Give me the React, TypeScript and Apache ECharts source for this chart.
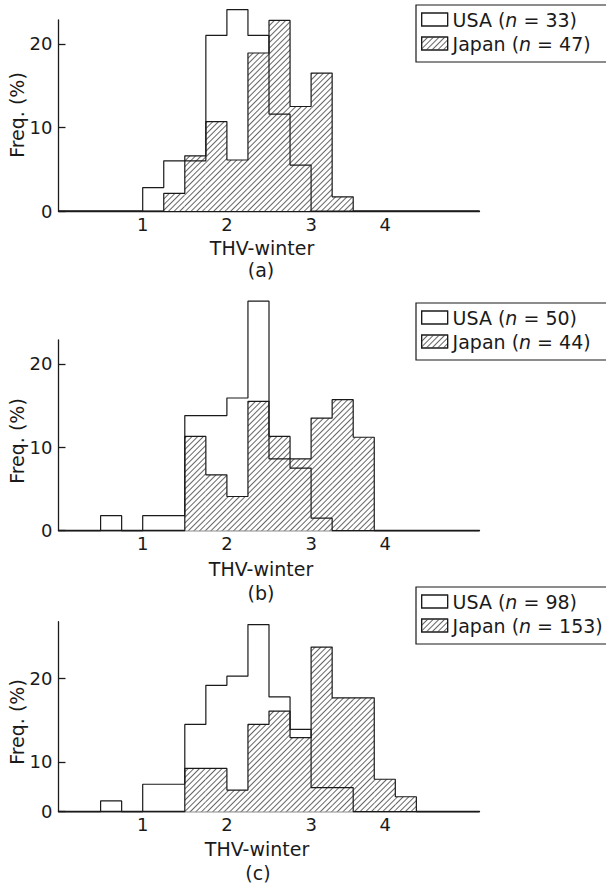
import React, { useEffect, useRef } from 'react';
import * as echarts from 'echarts';

// ---------- data ----------
// histogram bins of width 0.25 (bin start values) and the right edge of the last bin
const BIN_STARTS = ['0.00', '0.25', '0.50', '0.75', '1.00', '1.25', '1.50', '1.75', '2.00', '2.25',
  '2.50', '2.75', '3.00', '3.25', '3.50', '3.75', '4.00', '4.25', '4.50', '4.75'];
const BIN_END = 5;
const X_TICKS = [1, 2, 3, 4];
const Y_TICK_LABELS = ['0', '10', '20'];

// panel (a)
const USA_A_NAME = 'USA (n = 33)';
const JPN_A_NAME = 'Japan (n = 47)';
const USA_A = [0, 0, 0, 0, 2.8, 6.0, 6.0, 21.0, 24.1, 21.0, 11.6, 5.5, 0, 0, 0, 0, 0, 0, 0, 0];
const JPN_A = [0, 0, 0, 0, 0, 2.1, 6.6, 10.7, 6.1, 18.9, 22.8, 12.5, 16.5, 1.7, 0, 0, 0, 0, 0, 0];
const Y_TICKS_A = [0, 10, 20];

// panel (b)
const USA_B_NAME = 'USA (n = 50)';
const JPN_B_NAME = 'Japan (n = 44)';
const USA_B = [0, 0, 1.8, 0, 1.8, 1.8, 13.8, 13.8, 15.9, 27.5, 8.6, 7.5, 1.5, 0, 0, 0, 0, 0, 0, 0];
const JPN_B = [0, 0, 0, 0, 0, 0, 11.3, 6.7, 4.1, 15.5, 11.3, 8.6, 13.5, 15.7, 11.2, 0, 0, 0, 0, 0];
const Y_TICKS_B = [0, 10, 20];

// panel (c)
const USA_C_NAME = 'USA (n = 98)';
const JPN_C_NAME = 'Japan (n = 153)';
const USA_C = [0, 0, 1.3, 0, 3.3, 3.3, 10.5, 15.2, 16.3, 22.5, 13.8, 9.9, 2.9, 2.9, 0, 0, 0, 0, 0, 0];
const JPN_C = [0, 0, 0, 0, 0, 0, 5.2, 5.2, 2.6, 10.5, 12.1, 8.9, 19.8, 13.7, 13.7, 3.9, 1.8, 0, 0, 0];
// tick positions as printed in the reference (the "10" and "20" marks sit lower there)
const Y_TICKS_C = [0, 6.0, 16.0];

const PANEL_LABELS = ['(a)', '(b)', '(c)'];
const X_TITLE = 'THV-winter';
const Y_TITLE = 'Freq. (%)';

// ---------- layout ----------
const FONT = '"DejaVu Sans", Verdana, sans-serif';
const INK = '#1a1a1a';
const LAYOUT = [
  { top: 20, height: 191, legendTop: 5, titleX: 262, titleY: 248, labelX: 261, labelY: 270, freqY: 115 },
  { top: 340, height: 190.7, legendTop: 303, titleX: 261, titleY: 569, labelX: 261, labelY: 593, freqY: 441 },
  { top: 621.7, height: 190, legendTop: 587, titleX: 257, titleY: 849, labelX: 258, labelY: 873, freqY: 722 },
];
const Y_MAX = 22.85;

const PANELS = [
  { usaName: USA_A_NAME, jpnName: JPN_A_NAME, usa: USA_A, jpn: JPN_A, yTicks: Y_TICKS_A },
  { usaName: USA_B_NAME, jpnName: JPN_B_NAME, usa: USA_B, jpn: JPN_B, yTicks: Y_TICKS_B },
  { usaName: USA_C_NAME, jpnName: JPN_C_NAME, usa: USA_C, jpn: JPN_C, yTicks: Y_TICKS_C },
];

const HATCH = {
  symbol: 'rect',
  symbolSize: 1,
  dashArrayX: [1, 0],
  dashArrayY: [1, 3],
  rotation: -Math.PI / 4,
  color: '#666666',
  backgroundColor: '#ffffff',
};
const NO_HATCH = {
  symbol: 'rect',
  symbolSize: 1,
  dashArrayX: [1, 0],
  dashArrayY: [1, 3],
  color: 'rgba(255,255,255,0)',
  backgroundColor: 'rgba(255,255,255,0)',
};

function toBars(values: number[]) {
  return values.map((v) => (v > 0 ? v : '-'));
}

// histogram outline: (bin start, height) pairs plus closing edge, drawn as a step line
function toOutline(values: number[]) {
  const pts: [number, number][] = values.map((v, i) => [parseFloat(BIN_STARTS[i]), v]);
  pts.push([BIN_END, 0]);
  return pts;
}

function buildOption() {
  const grid: any[] = [];
  const xAxis: any[] = [];
  const yAxis: any[] = [];
  const series: any[] = [];
  const legend: any[] = [];
  const graphic: any[] = [];

  PANELS.forEach((p, k) => {
    const L = LAYOUT[k];
    grid.push({ left: 58.5, width: 421, top: L.top, height: L.height, outerBoundsMode: 'none', containLabel: false });
    // visible value axis 0..5
    xAxis.push({
      type: 'value', gridIndex: k, min: 0, max: BIN_END,
      axisLine: { show: true, lineStyle: { color: INK, width: 1.3 } },
      axisTick: { show: false },
      splitLine: { show: false },
      axisLabel: {
        customValues: X_TICKS,
        margin: 4,
        color: INK, fontSize: 18, fontFamily: FONT,
        formatter: (v: number) => (v === 4 ? '{s|4}' : String(v)),
        rich: { s: { padding: [0, 20, 0, 0], color: INK, fontSize: 18, fontFamily: FONT } },
      },
    });
    // hidden category axis carrying the bins
    xAxis.push({
      type: 'category', gridIndex: k, data: BIN_STARTS, show: false, boundaryGap: true,
    });
    const ticks = p.yTicks;
    yAxis.push({
      type: 'value', gridIndex: k, min: 0, max: Y_MAX,
      axisLine: { show: true, lineStyle: { color: INK, width: 1.3 } },
      axisTick: { show: true, inside: true, length: 7, customValues: ticks, lineStyle: { color: INK, width: 1.3 } },
      splitLine: { show: false },
      axisLabel: {
        customValues: ticks,
        margin: 6,
        color: INK, fontSize: 18, fontFamily: FONT,
        formatter: (v: number) => {
          const i = ticks.indexOf(v);
          return i >= 0 ? Y_TICK_LABELS[i] : '';
        },
      },
    });
    const valAxisIndex = 2 * k;
    const catAxisIndex = 2 * k + 1;
    // Japan hatched fill
    series.push({
      type: 'bar', name: p.jpnName, xAxisIndex: catAxisIndex, yAxisIndex: k,
      data: toBars(p.jpn), barWidth: '100%', barGap: '-100%', clip: false, z: 2,
      itemStyle: { color: '#ffffff', borderWidth: 0, decal: HATCH },
      emphasis: { disabled: true },
    });
    // USA (open bars)
    series.push({
      type: 'bar', name: p.usaName, xAxisIndex: catAxisIndex, yAxisIndex: k,
      data: toBars(p.usa), barWidth: '100%', barGap: '-100%', clip: false, z: 1,
      itemStyle: { color: 'rgba(255,255,255,0)', borderWidth: 0, decal: NO_HATCH },
      emphasis: { disabled: true },
    });
    // outlines
    [p.jpn, p.usa].forEach((vals, j) => {
      series.push({
        type: 'line', name: (j === 0 ? 'Japan outline ' : 'USA outline ') + PANEL_LABELS[k],
        xAxisIndex: valAxisIndex, yAxisIndex: k,
        data: toOutline(vals), step: 'end', showSymbol: false, symbol: 'none', clip: false, z: 3,
        lineStyle: { color: INK, width: 1.2 },
        emphasis: { disabled: true }, silent: true,
      });
    });
    const iconStyle = { borderColor: INK, borderWidth: 1.2 };
    legend.push({
      orient: 'vertical', left: 416, top: L.legendTop,
      data: [
        { name: p.usaName, itemStyle: { ...iconStyle, color: '#ffffff' } },
        { name: p.jpnName, itemStyle: { ...iconStyle } },
      ],
      icon: 'rect', itemWidth: 26, itemHeight: 13, itemGap: 5,
      padding: [5, 20, 9, 5],
      borderColor: INK, borderWidth: 1.2,
      selectedMode: false,
      formatter: (name: string) => name.replace('(n', '({i|n}'),
      textStyle: {
        color: INK, fontSize: 19, fontFamily: FONT, lineHeight: 18,
        rich: { i: { fontStyle: 'italic', color: INK, fontSize: 19, fontFamily: FONT, lineHeight: 18 } },
      },
    });
    graphic.push({
      type: 'text', x: L.titleX, y: L.titleY,
      style: { text: X_TITLE, fill: INK, fontSize: 19, fontFamily: FONT, align: 'center', verticalAlign: 'middle' },
    });
    graphic.push({
      type: 'text', x: L.labelX, y: L.labelY,
      style: { text: PANEL_LABELS[k], fill: INK, fontSize: 19, fontFamily: FONT, align: 'center', verticalAlign: 'middle' },
    });
    graphic.push({
      type: 'text', x: 16.5, y: L.freqY, rotation: Math.PI / 2,
      style: { text: Y_TITLE, fill: INK, fontSize: 19, fontFamily: FONT, align: 'center', verticalAlign: 'middle' },
    });
  });

  return {
    animation: false,
    backgroundColor: '#ffffff',
    aria: { enabled: true, decal: { show: true } },
    grid, xAxis, yAxis, series, legend, graphic,
  };
}

export default function App() {
  const ref = useRef<HTMLDivElement>(null);
  useEffect(() => {
    document.body.style.margin = '0';
    if (!ref.current) return;
    const chart = echarts.init(ref.current, null, { renderer: 'svg' });
    chart.setOption(buildOption() as any);
    return () => chart.dispose();
  }, []);
  return <div ref={ref} style={{ width: 606, height: 885 }} />;
}
